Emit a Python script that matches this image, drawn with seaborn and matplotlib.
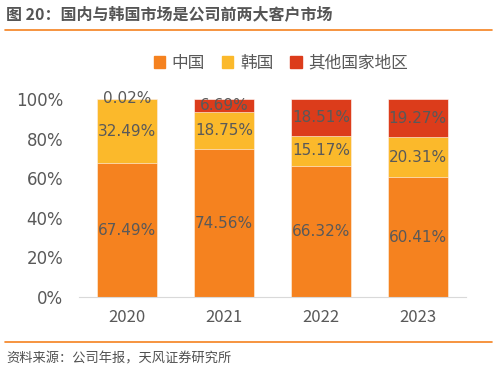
import numpy as np
import pandas as pd
import seaborn as sns
import matplotlib.pyplot as plt
from matplotlib.patches import Patch

years = ['2020', '2021', '2022', '2023']
china = [67.49, 74.56, 66.32, 60.41]
korea = [32.49, 18.75, 15.17, 20.31]
other = [0.02, 6.69, 18.51, 19.27]
series_names = ['中国', '韩国', '其他国家地区']
colors = ['#F5821F', '#FBB92B', '#DC3C1B']

sns.set_style("white")
plt.rcParams['font.family'] = ['Noto Sans CJK SC', 'DejaVu Sans']

df = pd.DataFrame({'year': years, 'china': china, 'korea': korea, 'other': other})
df['c1'] = df['china']
df['c2'] = df['china'] + df['korea']
df['c3'] = df['c2'] + df['other']

fig = plt.figure(figsize=(4.97, 3.72), dpi=100)
ax = fig.add_axes([0.158, 0.202, 0.78, 0.532])

# stacked bars drawn from the top down
for col, c in zip(['c3', 'c2', 'c1'], colors[::-1]):
    sns.barplot(data=df, x='year', y=col, color=c, width=0.62, ax=ax,
                saturation=1, edgecolor='white', linewidth=0.4)

txt = '#595959'
for i in range(len(years)):
    ax.text(i, china[i] / 2, f'{china[i]:.2f}%', ha='center', va='center',
            fontsize=11, color=txt, family='DejaVu Sans')
    ax.text(i, china[i] + korea[i] / 2, f'{korea[i]:.2f}%', ha='center', va='center',
            fontsize=11, color=txt, family='DejaVu Sans')
    y_o = china[i] + korea[i] + other[i] / 2
    if other[i] < 1:
        y_o = 100
    ax.text(i, y_o, f'{other[i]:.2f}%', ha='center', va='center',
            fontsize=11, color=txt, family='DejaVu Sans')

ax.set_ylim(0, 100)
ax.set_xlim(-0.5, 3.5)
ax.set_yticks([0, 20, 40, 60, 80, 100])
ax.set_yticklabels([f'{v}%' for v in [0, 20, 40, 60, 80, 100]], family='DejaVu Sans')
ax.tick_params(axis='both', labelsize=12, colors=txt, length=0)
ax.tick_params(axis='y', pad=11)
ax.tick_params(axis='x', pad=9)
ax.set_xlabel('')
ax.set_ylabel('')
for s in ['top', 'right', 'left']:
    ax.spines[s].set_visible(False)
ax.spines['bottom'].set_color('#d9d9d9')

handles = [Patch(color=c) for c in colors]
fig.legend(handles, series_names, loc='center', bbox_to_anchor=(0.565, 0.83), ncol=3,
           frameon=False, fontsize=12, handlelength=0.7, handleheight=0.7,
           columnspacing=1.0, handletextpad=0.4, labelcolor=txt)

fig.text(0.012, 0.962, '图 20：国内与韩国市场是公司前两大客户市场', fontsize=11.5,
         color='#555555', va='center', weight='bold')
fig.add_artist(plt.Line2D([0.01, 0.99], [0.92, 0.92], color='#F5821F', lw=1.2))
fig.add_artist(plt.Line2D([0.01, 0.99], [0.08, 0.08], color='#F5821F', lw=1.2))
fig.text(0.012, 0.035, '资料来源：公司年报，天风证券研究所', fontsize=9.5,
         color='#505050', va='center')

fig.savefig('out.png', dpi=100)
